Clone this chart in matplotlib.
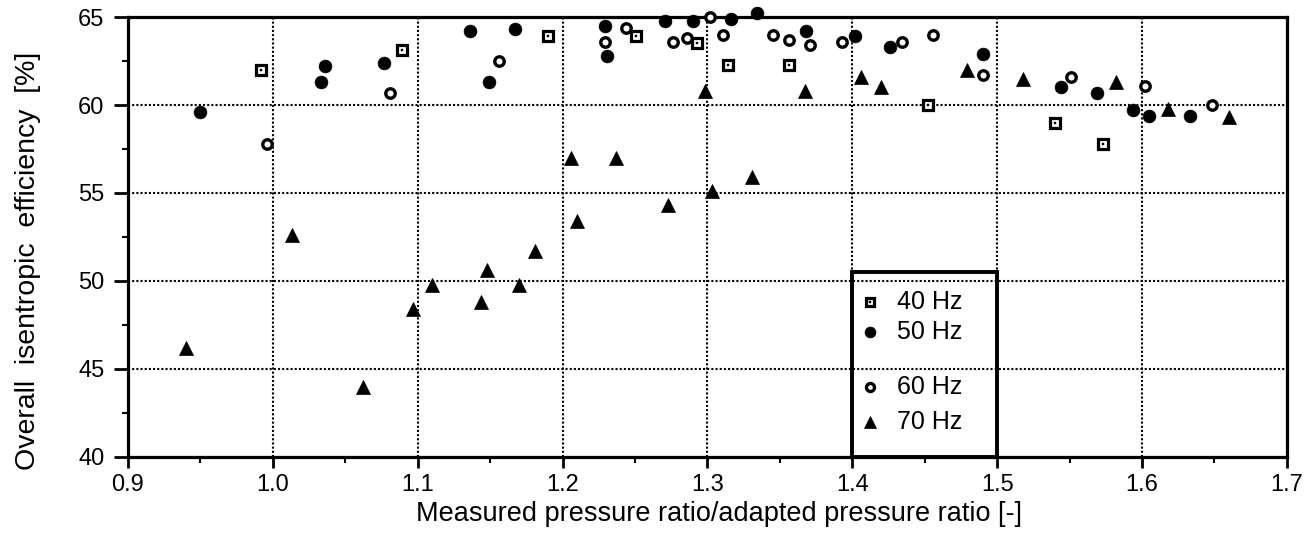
import matplotlib
matplotlib.use("Agg")
import matplotlib.pyplot as plt
from matplotlib.patches import Rectangle
from matplotlib.ticker import MultipleLocator, FormatStrFormatter

plt.rcParams['font.family'] = ['Liberation Sans', 'DejaVu Sans']

# ── data ─────────────────────────────────────────────────────────────────────
x_40 = [0.992, 1.089, 1.190, 1.251, 1.293, 1.314, 1.356, 1.452, 1.540, 1.573]
y_40 = [62.0, 63.1, 63.9, 63.9, 63.5, 62.3, 62.3, 60.0, 59.0, 57.8]

x_50 = [0.950, 1.033, 1.036, 1.077, 1.136, 1.149, 1.167, 1.229, 1.231, 1.271,
        1.290, 1.316, 1.334, 1.368, 1.402, 1.426, 1.490, 1.544, 1.569, 1.594,
        1.605, 1.633]
y_50 = [59.6, 61.3, 62.2, 62.4, 64.2, 61.3, 64.3, 64.5, 62.8, 64.8,
        64.8, 64.9, 65.2, 64.2, 63.9, 63.3, 62.9, 61.0, 60.7, 59.7,
        59.4, 59.4]

x_60 = [0.996, 1.081, 1.156, 1.229, 1.244, 1.276, 1.286, 1.302, 1.311, 1.345,
        1.356, 1.371, 1.393, 1.434, 1.456, 1.490, 1.551, 1.602, 1.648]
y_60 = [57.8, 60.7, 62.5, 63.6, 64.4, 63.6, 63.8, 65.0, 64.0, 64.0,
        63.7, 63.4, 63.6, 63.6, 64.0, 61.7, 61.6, 61.1, 60.0]

x_70 = [0.940, 1.013, 1.062, 1.097, 1.110, 1.144, 1.148, 1.170, 1.181, 1.206,
        1.210, 1.237, 1.273, 1.298, 1.303, 1.331, 1.367, 1.406, 1.420, 1.479,
        1.518, 1.582, 1.618, 1.660]
y_70 = [46.2, 52.6, 44.0, 48.4, 49.8, 48.8, 50.6, 49.8, 51.7, 57.0,
        53.4, 57.0, 54.3, 60.8, 55.1, 55.9, 60.8, 61.6, 61.0, 62.0,
        61.5, 61.3, 59.8, 59.3]

labels = ["40 Hz", "50 Hz", "60 Hz", "70 Hz"]

# marker styles for the four series
sq = dict(marker='s', ms=7.4, mfc='white', mec='black', mew=2.3, ls='none')
dot = dict(marker='s', ms=1.6, mfc='black', mec='black', mew=0.3, ls='none')
fc = dict(marker='o', ms=9.2, mfc='black', mec='black', mew=0.5, ls='none')
oc = dict(marker='o', ms=6.8, mfc='white', mec='black', mew=2.4, ls='none')
tri = dict(marker='^', ms=9.8, mfc='black', mec='black', mew=0.5, ls='none')

fig = plt.figure(figsize=(13.14, 5.33), dpi=100)
ax = fig.add_axes([0.0974, 0.1426, 0.882, 0.8255])

ax.plot(x_40, y_40, clip_on=False, zorder=4, **sq)
ax.plot(x_40, y_40, clip_on=False, zorder=5, **dot)
ax.plot(x_50, y_50, clip_on=False, zorder=4, **fc)
ax.plot(x_60, y_60, clip_on=False, zorder=4, **oc)
ax.plot(x_70, y_70, clip_on=False, zorder=4, **tri)

ax.set_xlim(0.9, 1.7)
ax.set_ylim(40, 65)
ax.xaxis.set_major_locator(MultipleLocator(0.1))
ax.xaxis.set_minor_locator(MultipleLocator(0.05))
ax.yaxis.set_major_locator(MultipleLocator(5))
ax.yaxis.set_minor_locator(MultipleLocator(2.5))
ax.xaxis.set_major_formatter(FormatStrFormatter('%.1f'))
ax.yaxis.set_major_formatter(FormatStrFormatter('%d'))

ax.tick_params(axis='x', which='major', direction='out', length=8, width=2,
               labelsize=17, pad=4)
ax.tick_params(axis='y', which='major', direction='out', length=10, width=2,
               labelsize=17, pad=7)
ax.tick_params(which='minor', direction='out', length=4, width=1.5)

for s in ax.spines.values():
    s.set_linewidth(2.3)
    s.set_color('black')

ax.grid(True, which='major', color='black', linestyle=(0, (1, 1)), linewidth=1.5)
ax.set_axisbelow(True)

ax.set_xlabel("Measured pressure ratio/adapted pressure ratio [-]", fontsize=19.5)
ax.set_ylabel("Overall  isentropic  efficiency  [%]", fontsize=20.5)
ax.xaxis.set_label_coords(0.51, -0.101)
ax.yaxis.set_label_coords(-0.075, 0.445)

# hand-drawn legend box sitting on the bottom axis between 1.4 and 1.5
ax.add_patch(Rectangle((1.4, 40), 0.1, 10.5, fill=False, lw=2.8,
                       edgecolor='black', zorder=6, clip_on=False))
leg_y = [48.8, 47.1, 44.0, 42.0]
leg_styles = [sq, fc, oc, tri]
for yy, st, lab in zip(leg_y, leg_styles, labels):
    small = dict(st)
    small['ms'] = st['ms'] * 0.85
    ax.plot([1.412], [yy], zorder=7, **small)
    if st is sq:
        ax.plot([1.412], [yy], zorder=8, **dot)
    ax.text(1.431, yy, lab, fontsize=18, va='center', ha='left', zorder=7)

fig.savefig("out.png", dpi=100)
